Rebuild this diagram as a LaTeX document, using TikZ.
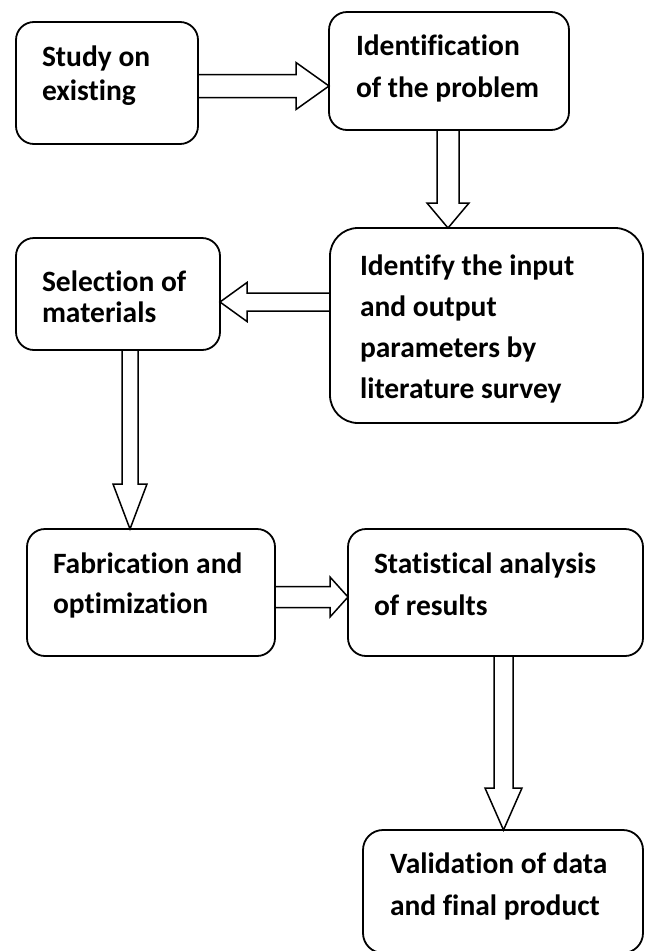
\documentclass[tikz,border=0pt]{standalone}
\usepackage{fontspec}
\setmainfont{Carlito}[Ligatures=NoCommon]
\usetikzlibrary{calc}
\tikzset{
  box/.style={draw, line width=1.8pt, rounded corners=18pt, inner sep=0pt, outer sep=0pt},
  lbl/.style={anchor=base west, inner sep=0pt, outer sep=0pt, align=left},
  blk/.style={draw, line width=1.5pt, line join=miter},
}
% block arrow from coordinate #1 to coordinate #2: shaft half width #3, head half width #4, head length #5
\newcommand{\blockarrow}[5]{%
  \coordinate (hb) at ($(#2)!#5!(#1)$);
  \draw[blk] ($(#1)!#3!90:(#2)$) -- ($(hb)!#3!-90:(#1)$) -- ($(hb)!#4!-90:(#1)$) -- (#2)
    -- ($(hb)!#4!90:(#1)$) -- ($(hb)!#3!90:(#1)$) -- ($(#1)!#3!-90:(#2)$);
}
\begin{document}
\begin{tikzpicture}[x=1pt,y=-1pt]
\useasboundingbox (0,0) rectangle (647,951);
\clip (0,0) rectangle (647,951);

% boxes
\node[box, minimum width=182pt, minimum height=122pt] (b1) at (107,83) {};
\node[box, minimum width=240pt, minimum height=118pt] (b2) at (449,71) {};
\node[box, minimum width=204pt, minimum height=112pt] (b3) at (118,294) {};
\node[box, minimum width=313pt, minimum height=195pt, rounded corners=28pt] (b4) at (486.5,325.5) {};
\node[box, minimum width=248pt, minimum height=127pt] (b5) at (151,592.5) {};
\node[box, minimum width=295pt, minimum height=127pt] (b6) at (495.5,592.5) {};
\node[box, minimum width=280pt, minimum height=123pt, rounded corners=20pt] (b7) at (503,891.5) {};

% texts (anchored at the baseline of the last line)
\node[lbl, font={\fontsize{29.5}{34}\selectfont\bfseries}] (t1) at (42,100) {Study on\\existing};
\node[lbl, font={\fontsize{29.5}{42}\selectfont\bfseries}] (t2) at (356,97) {Identification\\of the problem};
\node[lbl, font={\fontsize{29.5}{31}\selectfont\bfseries}] (t3) at (42,322) {Selection of\\materials};
\node[lbl, font={\fontsize{29.5}{41}\selectfont\bfseries}] (t4) at (360,398) {Identify the input\\and output\\parameters by\\literature survey};
\node[lbl, font={\fontsize{29.5}{40}\selectfont\bfseries}] (t5) at (53,613) {Fabrication and\\optimization};
\node[lbl, font={\fontsize{29.5}{42}\selectfont\bfseries}] (t6) at (374,615) {Statistical analysis\\of results};
\node[lbl, font={\fontsize{29.5}{42}\selectfont\bfseries}] (t7) at (390,915) {Validation of data\\and final product};

% connector end points on the boxes
\coordinate (a1s) at (b1.east |- 0,86);
\coordinate (a1e) at (b2.west |- 0,86);
\coordinate (a2s) at (b2.south -| 448,0);
\coordinate (a2e) at (b4.north -| 448,0);
\coordinate (a3s) at (b4.west |- 0,302);
\coordinate (a3e) at (b3.east |- 0,302);
\coordinate (a4s) at (b3.south -| 130,0);
\coordinate (a4e) at (b5.north -| 130,0);
\coordinate (a5s) at (b5.east |- 0,597);
\coordinate (a5e) at (b6.west |- 0,597);
\coordinate (a6s) at (b6.south -| 503.5,0);
\coordinate (a6e) at (b7.north -| 503.5,0);

\blockarrow{a1s}{a1e}{11.5pt}{23.5pt}{33pt}
\blockarrow{a2s}{a2e}{11pt}{21pt}{25pt}
\blockarrow{a3s}{a3e}{9pt}{19.5pt}{27pt}
\blockarrow{a4s}{a4e}{8pt}{17pt}{45pt}
\blockarrow{a5s}{a5e}{10.5pt}{20pt}{18pt}
\blockarrow{a6s}{a6e}{9.5pt}{18.5pt}{42pt}
\end{tikzpicture}
\end{document}
